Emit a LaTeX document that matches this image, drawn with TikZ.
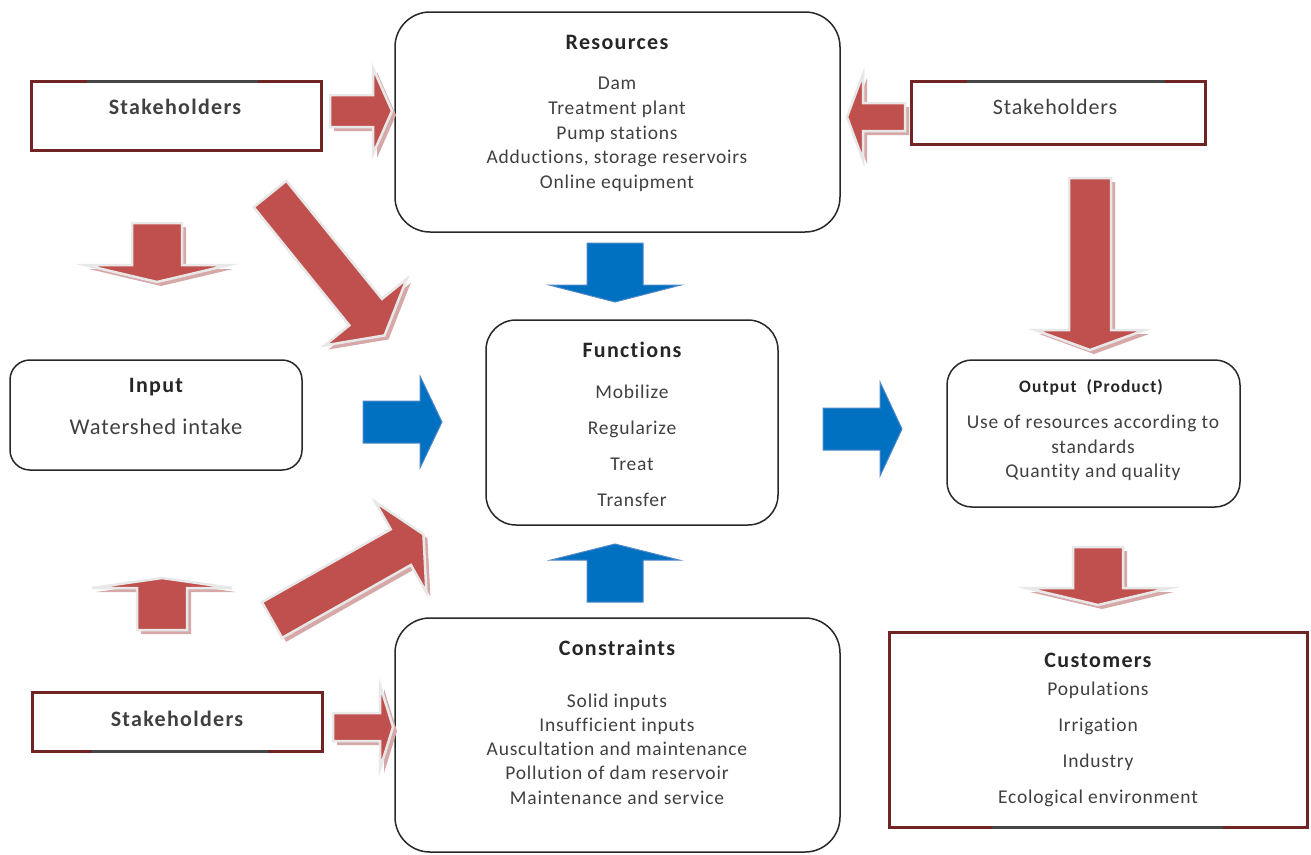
\documentclass[tikz,border=0pt]{standalone}
\usepackage{fontspec}
\setmainfont{Carlito}
\newfontfamily\bodyfont{Carlito}[LetterSpace=4,Ligatures=NoCommon]
\newfontfamily\headfont{Carlito}[LetterSpace=6,Ligatures=NoCommon]
\definecolor{arrowred}{RGB}{192,80,77}
\definecolor{shadowred}{RGB}{214,168,168}
\definecolor{arrowblue}{RGB}{0,112,192}
\definecolor{blueedge}{RGB}{80,135,200}
\definecolor{maroonedge}{RGB}{112,36,36}
\definecolor{txt}{RGB}{64,64,64}
\definecolor{ttl}{RGB}{38,38,38}
\definecolor{boxedge}{RGB}{40,40,40}
\definecolor{segedge}{RGB}{70,70,70}

\newcommand\arrowpath[4]{(0,-#2) -- ({#1-#4},-#2) -- ({#1-#4},-#3) -- (#1,0) -- ({#1-#4},#3) -- ({#1-#4},#2) -- (0,#2) -- cycle}
% #1 tail, #2 angle, #3 length, #4 half shaft, #5 half head, #6 head length, #7 style, #8 shadow style
\newcommand\blockarrow[8]{%
  \begin{scope}[shift={#1}]
    \begin{scope}[shift={(4,4)},rotate=#2]
      \path[#8] \arrowpath{#3}{#4}{#5}{#6};
    \end{scope}
    \begin{scope}[rotate=#2]
      \path[#7] \arrowpath{#3}{#4}{#5}{#6};
    \end{scope}
  \end{scope}}

\tikzset{
  rbox/.style={draw=boxedge, line width=1.5pt, rounded corners=#1, inner sep=0pt, outer sep=0pt},
  sbox/.style={draw=maroonedge, line width=3pt, inner sep=0pt, outer sep=0pt},
  seg/.style={draw=segedge, line width=3pt},
  title/.style={text=ttl, font=\headfont\bfseries\fontsize{22}{26}\selectfont, anchor=base, inner sep=0pt},
  body/.style={text=txt, font=\bodyfont\fontsize{19.5}{#1}\selectfont, align=center, inner sep=0pt},
  redarrow/.style={fill=arrowred, draw=black!9, line width=2.5pt, line join=miter},
  redshadow/.style={fill=shadowred},
  bluearrow/.style={fill=arrowblue, draw=blueedge, line width=1pt},
  noshadow/.style={}
}

\begin{document}
\begin{tikzpicture}[x=1pt,y=-1pt]
\useasboundingbox[fill=white] (0,0) rectangle (1311,854);

% ---------- boxes ----------
\node[rbox=35, minimum width=445, minimum height=220] (res) at (617.5,122) {};
\node[rbox=30, minimum width=292, minimum height=205] (fun) at (632,422.5) {};
\node[rbox=35, minimum width=445, minimum height=234] (con) at (617.5,735) {};
\node[rbox=20, minimum width=292, minimum height=110] (inp) at (156,415) {};
\node[rbox=25, minimum width=293, minimum height=147] (out) at (1093.5,433.5) {};

\node[sbox, minimum width=290, minimum height=69] (stTL) at (176.5,116) {};
\node[sbox, minimum width=294, minimum height=63] (stTR) at (1058.5,113) {};
\node[sbox, minimum width=290, minimum height=59] (stBL) at (177.5,722) {};
\node[sbox, minimum width=418, minimum height=195] (cus) at (1098.5,730) {};
\draw[seg] (87,81.5) -- (258,81.5);
\draw[seg] (967,81.5) -- (1165,81.5);
\draw[seg] (92,751.5) -- (268,751.5);
\draw[seg] (992,827.5) -- (1223,827.5);

% ---------- texts ----------
\node[title] (resT) at (617,49) {Resources};
\node[body=24.75] (resB) at (617,134.5) {Dam\\Treatment plant\\Pump stations\\Adductions, storage reservoirs\\Online equipment};

\node[title] (funT) at (632,357) {Functions};
\node[body=36] (funB) at (632,446) {Mobilize\\Regularize\\Treat\\Transfer};

\node[title] (conT) at (617,655) {Constraints};
\node[body=24.25] (conB) at (617,749) {Solid inputs\\Insufficient inputs\\Auscultation and maintenance\\Pollution of dam reservoir\\Maintenance and service};

\node[title] (inpT) at (156,392) {Input};
\node[text=txt, font=\bodyfont\fontsize{22.5}{26}\selectfont, anchor=base, inner sep=0pt] (inpB) at (156,434) {Watershed intake};

\node[title, font=\headfont\bfseries\fontsize{17.5}{20}\selectfont] (outT) at (1091,392) {Output\ \ (Product)};
\node[body=24.5] (outB) at (1093,448) {Use of resources according to\\standards\\Quantity and quality};

\node[title] (cusT) at (1098,667) {Customers};
\node[body=36] (cusB) at (1098,744) {Populations\\Irrigation\\Industry\\Ecological environment};

\node[title, text=txt] (stTLt) at (175,114) {Stakeholders};
\node[title, text=txt] (stBLt) at (177,726) {Stakeholders};
\node[text=txt, font=\bodyfont\fontsize{22}{26}\selectfont, anchor=base, inner sep=0pt] (stTRt) at (1055,114) {Stakeholders};

% ---------- red block arrows ----------
\blockarrow{(330,111)}{0}{62}{16}{43}{19}{redarrow}{redshadow}
\blockarrow{(157,223)}{-90}{59}{25}{72}{17}{redarrow}{redshadow}
\blockarrow{(270,194)}{-51}{182}{21}{53}{30}{redarrow}{redshadow}
\blockarrow{(905,117)}{180}{58}{14}{43}{16}{redarrow}{redshadow}
\blockarrow{(1090,178)}{-90}{172}{21}{55}{20}{redarrow}{redshadow}
\blockarrow{(1098,547)}{-90}{58}{25}{72}{17}{redarrow}{redshadow}
\blockarrow{(162,630)}{90}{52}{25}{70}{10}{redarrow}{redshadow}
\blockarrow{(272,620)}{29.5}{174}{20.5}{52}{26}{redarrow}{redshadow}
\blockarrow{(333,727)}{0}{60}{14}{42}{13}{redarrow}{redshadow}

% ---------- blue block arrows ----------
\blockarrow{(615,243)}{-90}{59}{28}{66}{17}{bluearrow}{noshadow}
\blockarrow{(615,602)}{90}{58}{28}{64}{16}{bluearrow}{noshadow}
\blockarrow{(363,422)}{0}{79}{21}{46}{22}{bluearrow}{noshadow}
\blockarrow{(823,429)}{0}{79}{21}{47}{22}{bluearrow}{noshadow}
\end{tikzpicture}
\end{document}
